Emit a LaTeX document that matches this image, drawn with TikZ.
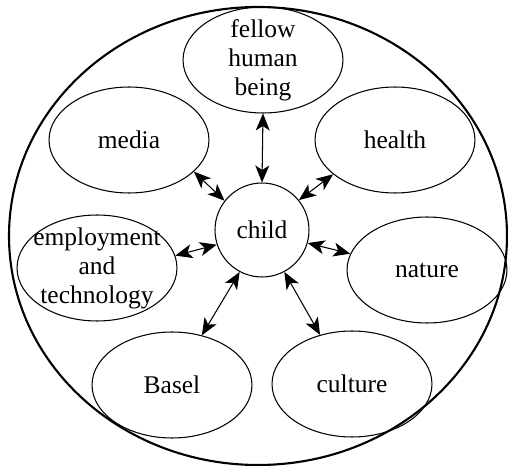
\documentclass[tikz,border=0pt]{standalone}
\usepackage{fontspec}
\setmainfont{Liberation Serif}
\usetikzlibrary{arrows.meta,shapes.geometric}

\begin{document}
\begin{tikzpicture} [x=0.02cm,y=-0.02cm]

    % these coordinates fix the picture's total size
    \useasboundingbox (0,0) rectangle (508,466);

    \tikzset{
      field/.style={draw, ellipse, line width=0.6pt, inner xsep=-0.17cm, inner ysep=-0.1cm,
        minimum width=3.2cm, minimum height=2.12cm, align=center,
        font=\fontsize{14.5}{16.5}\selectfont},
      link/.style={{Stealth[length=3.4mm,width=2.8mm,inset=0.9mm]}-{Stealth[length=3.4mm,width=2.8mm,inset=0.9mm]},
        line width=0.6pt}
    }

    % outer boundary
    \draw [line width=1.2pt] (258,236) ellipse (249 and 229);

    % centre
    \node (child) at (262,230) [draw, circle, line width=0.6pt, minimum size=1.88cm,
      inner sep=0pt, font=\fontsize{14.5}{16.5}\selectfont] {child};

    % surrounding fields
    \node (fellow) at (263,60) [field] {fellow\\human\\being};
    \node (media) at (129,140) [field] {media};
    \node (health) at (395,140) [field] {health};
    \node (employ) at (97,268) [field] {employment\\and\\technology};
    \node (nature) at (427,270) [field] {nature};
    \node (basel) at (172,385) [field] {Basel};
    \node (culture) at (352,384) [field] {culture};

    % links to the child
    \begin{scope} [link]
    \draw (fellow.south) -- (child.north);
    \draw (media.-26) -- (child.142);
    \draw (health.-151) -- (child.39);
    \draw (employ.9) -- (child.-162);
    \draw (nature.168) -- (child.-16);
    \draw (basel.59) -- (child.-118);
    \draw (culture.123) -- (child.-62);
    \end{scope}

\end{tikzpicture}
\end{document}
